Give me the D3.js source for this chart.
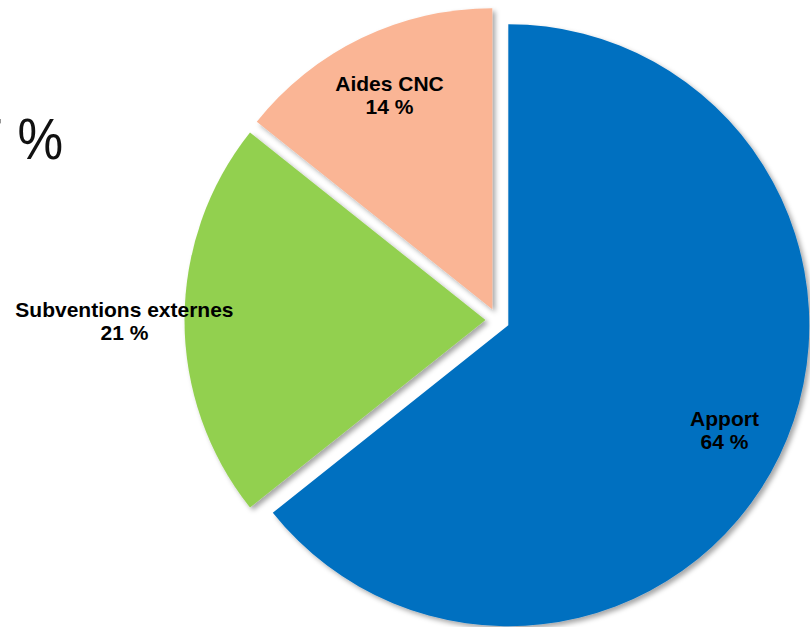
<!DOCTYPE html>
<html>
<head>
<meta charset="utf-8">
<script src="https://cdn.jsdelivr.net/npm/d3@7"></script>
<style>
  html, body { margin: 0; padding: 0; background: #fff; }
  svg { display: block; }
</style>
</head>
<body>
<svg id="chart" width="810" height="627"></svg>
<script>
// ---- data ----
const categories = ["Apport", "Subventions externes", "Aides CNC"];
const values = [64.3, 21.4, 14.3];
const valueLabels = ["64 %", "21 %", "14 %"];
const colors = ["#0070C0", "#92D050", "#FAB595"];

// ---- layout / style ----
const W = 810, H = 627;
const cx = 497.5, cy = 320, R = 301, explode = 12;
const labelRadius = [0.81, 1.2, 0.767];   // as fraction of R
const labelAngleShift = [1.8, -1.4, -0.7]; // degrees

const svg = d3.select("#chart");
const defs = svg.append("defs");
const f = defs.append("filter").attr("id", "shadow")
  .attr("x", "-20%").attr("y", "-20%").attr("width", "140%").attr("height", "140%");
f.append("feDropShadow").attr("dx", 3).attr("dy", 3).attr("stdDeviation", 2.5)
  .attr("flood-color", "#000").attr("flood-opacity", 0.35);

// Cropped text from the slide on the left (partly outside the frame, as in the reference)
svg.append("text")
  .attr("transform", "translate(63,159) scale(0.9,1)")
  .attr("x", 0).attr("y", 0)
  .attr("text-anchor", "end")
  .style("font-family", "Liberation Sans, Arial, sans-serif")
  .style("font-size", "57px")
  .style("word-spacing", "0px")
  .attr("fill", "#111")
  .text("7 %");

const pie = d3.pie().sort(null).value(d => d)(values);
const arc = d3.arc().innerRadius(0).outerRadius(R);

const g = svg.append("g").attr("transform", `translate(${cx},${cy})`);

const slices = g.selectAll("g.slice").data(pie).enter().append("g")
  .attr("class", "slice")
  .attr("transform", d => {
    const a = (d.startAngle + d.endAngle) / 2;
    return `translate(${explode * Math.sin(a)},${-explode * Math.cos(a)})`;
  });

slices.append("path")
  .attr("d", arc)
  .attr("fill", (d, i) => colors[i])
  .attr("filter", "url(#shadow)");

slices.each(function(d, i) {
  const a = (d.startAngle + d.endAngle) / 2 + labelAngleShift[i] * Math.PI / 180;
  const r = labelRadius[i] * R;
  const x = r * Math.sin(a), y = -r * Math.cos(a);
  const t = d3.select(this).append("text")
    .attr("text-anchor", "middle")
    .style("font-family", "Liberation Sans, Arial, sans-serif")
    .style("font-size", "21px")
    .style("font-weight", "bold")
    .attr("fill", "#000");
  t.append("tspan").attr("x", x).attr("y", y - 11.5).text(categories[i]);
  t.append("tspan").attr("x", x).attr("y", y + 11.5).text(valueLabels[i]);
});
</script>
</body>
</html>
